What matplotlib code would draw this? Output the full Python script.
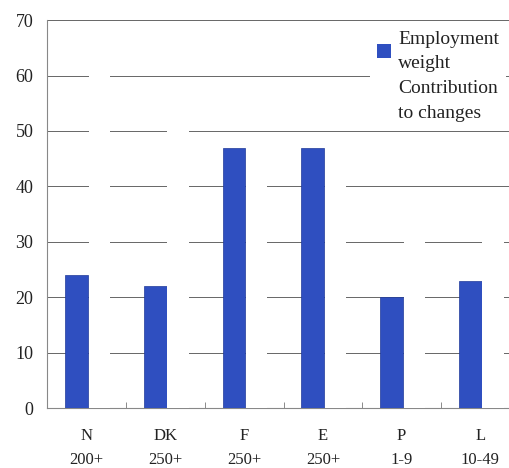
import numpy as np
import matplotlib
matplotlib.use("Agg")
import matplotlib.pyplot as plt
from matplotlib.patches import Patch

# data
countries = ["N", "DK", "F", "E", "P", "L"]
size_classes = ["200+", "250+", "250+", "250+", "1-9", "10-49"]
employment_weight = [24, 22, 47, 47, 20, 23]
# second series is drawn in white in the original (only hides the gridlines)
contribution = [65, 55, 45, 45, 35, 35]

plt.rcParams["font.family"] = ["Liberation Serif", "DejaVu Serif"]

fig = plt.figure(figsize=(5.09, 4.68), dpi=100)
fig.patch.set_facecolor("white")
ax = fig.add_axes([0.093, 0.128, 0.928, 0.829])

x = np.arange(len(countries))
blue = "#2f4fc0"
ax.bar(x - 0.13, employment_weight, width=0.29, color=blue,
       edgecolor="#1f3a9a", linewidth=0.5, zorder=3)
ax.bar(x + 0.16, contribution, width=0.27, color="white",
       edgecolor="none", zorder=3)

ax.set_xlim(-0.5, 5.5)
ax.set_ylim(0, 70)
ax.set_yticks(range(0, 71, 10))
ax.tick_params(axis="y", length=0, pad=10, labelsize=13, colors="#222222")
ax.yaxis.grid(True, color="#666666", linewidth=0.7)
ax.set_axisbelow(True)

ax.set_xticks(x)
ax.set_xticklabels([f"{c}\n{s}" for c, s in zip(countries, size_classes)],
                   fontsize=12, linespacing=1.7, color="#222222")
ax.tick_params(axis="x", length=0, pad=14)
ax.set_xticks(np.arange(0.5, 5.5, 1.0), minor=True)
ax.tick_params(axis="x", which="minor", direction="in", length=4,
               color="#777777")

for side in ["top", "right"]:
    ax.spines[side].set_visible(False)
for side in ["left", "bottom"]:
    ax.spines[side].set_color("#888888")
    ax.spines[side].set_linewidth(0.8)

handles = [Patch(facecolor=blue, edgecolor="none"),
           Patch(facecolor="white", edgecolor="none")]
leg = fig.legend(handles, ["Employment\nweight", "Contribution\nto changes"],
                 loc="upper left", bbox_to_anchor=(0.708, 0.97),
                 fontsize=14, frameon=True, fancybox=False,
                 handlelength=0.75, handleheight=0.75, handletextpad=0.35,
                 labelspacing=0.45, borderpad=0.35)
leg.get_frame().set_facecolor("white")
leg.get_frame().set_edgecolor("none")
leg.get_frame().set_alpha(1)
for t in leg.get_texts():
    t.set_linespacing(1.55)
    t.set_color("#222222")

fig.savefig("out.png", dpi=100)
